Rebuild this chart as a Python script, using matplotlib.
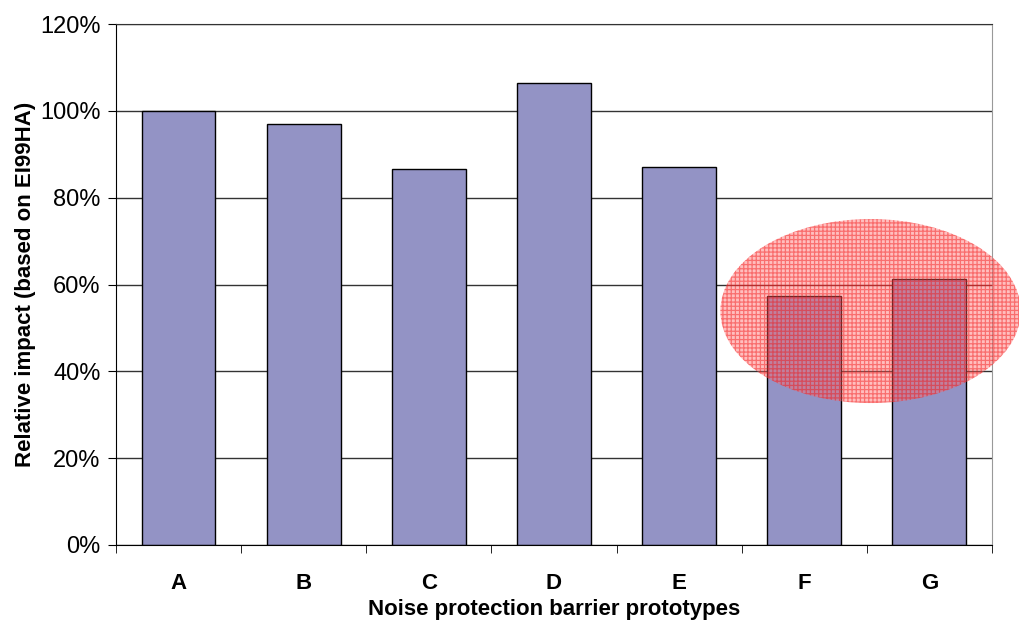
import numpy as np
import matplotlib
matplotlib.use("Agg")
import matplotlib.pyplot as plt
from matplotlib.patches import Ellipse
from matplotlib.ticker import PercentFormatter

plt.rcParams['font.family'] = ['Liberation Sans', 'DejaVu Sans']
plt.rcParams['hatch.linewidth'] = 0.9

prototypes = ["A", "B", "C", "D", "E", "F", "G"]
impact = [100.0, 97.0, 86.6, 106.4, 87.1, 57.3, 61.3]
y_ticks = [0, 20, 40, 60, 80, 100, 120]

fig = plt.figure(figsize=(10.2, 6.2), dpi=100)
ax = fig.add_axes([0.1137, 0.121, 0.8588, 0.840])

x = np.arange(len(prototypes))
ax.set_axisbelow(True)
ax.yaxis.grid(True, color="#333333", linewidth=1.0)
ax.bar(x, impact, width=0.59, color="#9393C5", edgecolor="black", linewidth=1.0, zorder=2)

# highlight ellipse around F and G
ell = Ellipse((5.53, 53.9), width=2.40, height=42.4,
              facecolor=(1.0, 0.4, 0.4, 0.42), edgecolor=(0.95, 0.05, 0.05, 0.45),
              linewidth=0, hatch="++++", zorder=3, clip_on=False)
ax.add_patch(ell)

ax.set_xlim(-0.5, len(prototypes) - 0.5)
ax.set_ylim(0, 120)
ax.set_yticks(y_ticks)
ax.yaxis.set_major_formatter(PercentFormatter(decimals=0))
ax.set_xticks(x)
ax.set_xticklabels(prototypes, fontsize=16, fontweight="bold")
ax.set_xticks(np.arange(-0.5, len(prototypes)), minor=True)
ax.tick_params(axis="x", which="major", length=0, pad=20)
ax.tick_params(axis="x", which="minor", length=6, direction="out", color="black")
ax.tick_params(axis="y", length=6, direction="out", labelsize=17, pad=5)

ax.spines["right"].set_color("#999999")
ax.spines["top"].set_color("#333333")
ax.spines["left"].set_color("black")
ax.spines["bottom"].set_color("black")

ax.set_xlabel("Noise protection barrier prototypes", fontsize=16, fontweight="bold", labelpad=4)
ax.set_ylabel("Relative impact (based on EI99HA)", fontsize=16, fontweight="bold", labelpad=3)

fig.savefig("out.png", dpi=100)
